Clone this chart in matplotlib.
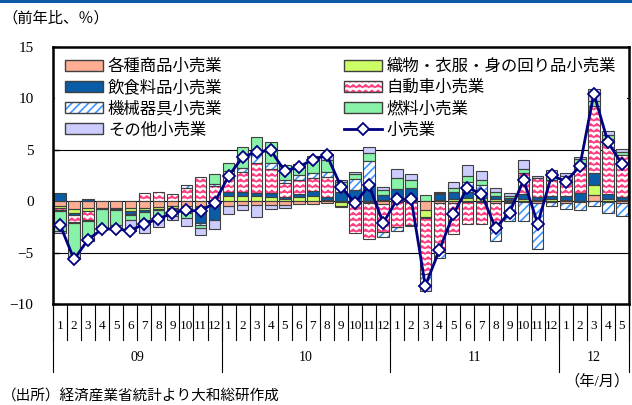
import numpy as np
import matplotlib
matplotlib.use('agg')
import matplotlib.pyplot as plt
import matplotlib.transforms as mtransforms
import matplotlib.hatch as mhatch
from matplotlib.path import Path
from matplotlib.patches import Patch
from matplotlib.lines import Line2D

plt.rcParams['font.family'] = ['Liberation Serif', 'Noto Sans CJK JP']
plt.rcParams['hatch.linewidth'] = 1.2


class WaveHatch(mhatch.HatchPatternBase):
    # zigzag lines for '|' in a hatch string (stands in for Excel's wave fill)
    def __init__(self, hatch, density):
        self.num_lines = int(hatch.count('|') * density)
        self.npts = 33
        self.num_vertices = self.num_lines * self.npts

    def set_vertices_and_codes(self, vertices, codes):
        n = self.npts
        xs = np.linspace(0, 1, n)
        zig = np.where(np.arange(n) % 2 == 0, -0.012, 0.012)
        for i in range(self.num_lines):
            y0 = (i + 0.5) / self.num_lines
            vertices[i * n:(i + 1) * n, 0] = xs
            vertices[i * n:(i + 1) * n, 1] = y0 + zig
            codes[i * n] = Path.MOVETO
            codes[i * n + 1:(i + 1) * n] = Path.LINETO


mhatch._hatch_types = [WaveHatch if t is mhatch.VerticalHatch else t
                       for t in mhatch._hatch_types]

months = list(range(1, 13)) * 3 + list(range(1, 6))
years = ['09', '10', '11', '12']

kakushu = [-0.5, -0.8, -0.7, -0.65, -0.65, -0.65, -0.65, -0.55, -0.5, -0.5, -0.5, -0.5,
           -0.5, -0.35, -0.4, -0.4, -0.35, -0.3, -0.3, -0.15, -0.1, -0.1, -0.1, -0.25,
           -0.1, -0.05, -0.9, -0.15, -0.15, -0.1, -0.1, -0.15, -0.1, -0.1, -0.2, -0.1,
           -0.15, -0.1, 0.6, -0.1, -0.15]
orimono = [-0.2, -0.3, -0.25, -0.1, -0.15, -0.3, -0.2, -0.2, -0.15, -0.25, -0.1, 0.1,
           0.5, 0.55, 0.55, 0.4, 0.2, 0.45, 0.55, 0.1, -0.35, -0.05, -0.1, 0.15,
           0.15, 0.05, -0.6, 0.1, 0.25, 0.3, 0.3, 0.2, 0.15, 0.2, 0.1, 0.2,
           0.1, 0.05, 1.0, 0.2, 0.1]
inshoku = [0.77, -0.2, 0.2, -0.05, -0.1, -0.3, -0.2, -0.1, -0.1, -0.35, -1.5, -1.3,
           0.4, 0.3, 0.25, 0.35, 0.25, 0.2, 0.4, 0.3, 0.9, 1.1, 1.5, 0.45,
           1.0, 1.2, -0.1, 0.55, 0.6, 0.6, 0.6, 0.35, 0.15, 0.5, 0.3, 0.3,
           0.45, 0.75, 1.1, 0.5, 0.35]
jidousha = [-0.2, -0.7, -0.9, 0.0, 0.0, -0.1, 0.8, 0.85, 0.7, 1.25, 2.3, 1.4,
            1.7, 2.0, 2.9, 2.4, 1.3, 1.45, 1.3, 1.9, -0.15, -2.9, -3.5, -2.7,
            -2.4, -2.3, -5.5, -4.8, -3.0, -2.1, -2.15, -2.3, -0.1, 2.0, 1.85, 1.6,
            1.9, 2.9, 6.5, 5.35, 4.0]
kikai = [-0.1, -0.1, -0.1, 0.0, 0.0, 0.0, 0.0, 0.0, 0.0, 0.3, -0.2, 0.2,
         0.3, 0.4, 0.9, 0.6, 0.3, 0.4, 0.5, 0.55, 0.5, 1.05, 2.35, -0.5,
         -0.4, -0.1, -1.1, -0.6, 0.0, 1.0, 0.7, -1.4, -1.7, -1.8, -4.45, -0.4,
         -0.65, -0.8, -0.5, -1.0, -1.3]
nenryou = [-1.9, -3.3, -1.8, -1.8, -1.4, -0.5, -0.8, -1.0, -0.7, -0.5, -0.3, 0.9,
           0.8, 2.0, 1.65, 1.95, 1.5, 1.1, 1.3, 1.1, 0.5, 0.5, 0.85, 0.5,
           1.1, 0.85, 0.6, 0.15, 0.4, 0.5, 0.5, 0.3, 0.2, 0.4, 0.0, 0.5,
           0.0, 0.35, 0.55, 0.35, 0.3]
sonota = [-0.2, -0.2, -0.15, -0.1, -0.4, -1.0, -1.2, -0.7, -0.4, -0.8, -0.7, -0.9,
          -0.7, -0.55, -1.1, -0.35, -0.3, 0.0, 0.3, 0.6, 0.15, 0.2, 0.55, 0.3,
          0.85, 0.5, -0.5, 0.1, 0.65, 1.1, 0.85, 0.4, 0.3, 0.85, 0.2, 0.4,
          0.25, 0.25, 1.15, 0.4, 0.3]
kouri = [-2.28, -5.65, -3.72, -2.7, -2.7, -2.86, -2.2, -1.73, -1.15, -0.84, -1.0, -0.13,
         2.43, 4.29, 4.77, 4.93, 2.91, 3.33, 4.04, 4.45, 1.41, -0.2, 1.54, -2.12,
         0.19, 0.19, -8.2, -4.75, -1.25, 1.31, 0.7, -2.6, -1.1, 2.05, -2.18, 2.53,
         1.89, 3.39, 10.44, 5.73, 3.59]

# label, values, fill colour, hatch, hatch colour
series = [
    ('各種商品小売業', kakushu, '#FFAE94', None, None),
    ('織物・衣服・身の回り品小売業', orimono, '#CCFF66', None, None),
    ('飲食料品小売業', inshoku, '#0B5CA6', None, None),
    ('自動車小売業', jidousha, 'white', '|||', '#FF3D82'),
    ('機械器具小売業', kikai, 'white', '////', '#3C96FF'),
    ('燃料小売業', nenryou, '#88F2A8', None, None),
    ('その他小売業', sonota, '#CCCCFF', None, None),
]

W, H = 632, 405
fig = plt.figure(figsize=(W / 100, H / 100), dpi=100)
ax = fig.add_axes([53 / W, 1 - 304.3 / H, 576 / W, 257.8 / H])

x = np.arange(len(kouri))
width = 0.82
edge = '#404040'
pos = np.zeros(len(x))
neg = np.zeros(len(x))
handles = {}
for label, vals, face, hatch, hcol in series:
    v = np.array(vals)
    bottom = np.where(v >= 0, pos, neg)
    m = v != 0
    if hatch:
        ax.bar(x[m], v[m], width, bottom=bottom[m], color='white', edgecolor=hcol,
               hatch=hatch, linewidth=0, zorder=2)
        handles[label] = (Patch(facecolor='white', edgecolor=hcol, hatch=hatch, linewidth=0),
                          Patch(facecolor='none', edgecolor=edge, linewidth=1))
    else:
        ax.bar(x[m], v[m], width, bottom=bottom[m], color=face, linewidth=0, zorder=2)
        handles[label] = Patch(facecolor=face, edgecolor=edge, linewidth=1)
    ax.bar(x[m], v[m], width, bottom=bottom[m], facecolor='none', edgecolor=edge,
           linewidth=0.8, zorder=2.1)
    pos += np.where(v > 0, v, 0)
    neg += np.where(v < 0, v, 0)

ax.plot(x, kouri, color='#000080', lw=2, marker='D', ms=6.5, mfc='white',
        mec='#000080', mew=1.3, zorder=4)
handles['小売業'] = Line2D([], [], color='#000080', lw=2, marker='D', ms=6.5,
                          mfc='white', mec='#000080', mew=1.3)

for yv in [-5, 0, 5, 10]:
    ax.axhline(yv, color='black', lw=0.8, zorder=1)

ax.set_xlim(-0.5, len(x) - 0.5)
ax.set_ylim(-10, 15)
ax.set_yticks(range(-10, 16, 5))
ax.set_xticks([])
ax.tick_params(axis='y', direction='in', length=4, width=1, labelsize=11, pad=14)
for s in ax.spines.values():
    s.set_linewidth(1.8)

order = ['各種商品小売業', '飲食料品小売業', '機械器具小売業', 'その他小売業',
         '織物・衣服・身の回り品小売業', '自動車小売業', '燃料小売業', '小売業']
leg = ax.legend([handles[k] for k in order], order, ncol=2, loc='upper left',
                bbox_to_anchor=(0.0, 1.0), frameon=True, facecolor='white',
                edgecolor='none', framealpha=1, fancybox=False, fontsize=11.8,
                handlelength=2.3, handleheight=0.65, handletextpad=0.3,
                labelspacing=0.32, columnspacing=7.4, borderpad=0.65, borderaxespad=0.1)
leg.set_zorder(1.5)

# two-level category axis
trans = mtransforms.blended_transform_factory(ax.transData, ax.transAxes)
hpx = 257.8
for i, mo in enumerate(months):
    ax.text(i, -22 / hpx, str(mo), transform=trans, ha='center', va='center', fontsize=9.5)
for b in np.arange(-0.5, len(x), 1.0):
    ax.plot([b, b], [0, -36 / hpx], transform=trans, color='black', lw=0.8, clip_on=False)
ybounds = [-0.5, 11.5, 23.5, 35.5, len(x) - 0.5]
for b in ybounds:
    ax.plot([b, b], [0, -68 / hpx], transform=trans, color='black', lw=0.8, clip_on=False)
for k, yr in enumerate(years):
    ax.text((ybounds[k] + ybounds[k + 1]) / 2, -53 / hpx, yr, transform=trans,
            ha='center', va='center', fontsize=10)

fig.add_artist(plt.Rectangle((0, 1 - 3 / H), 1, 3 / H, transform=fig.transFigure,
                             color='#0F5BA5', lw=0))
fig.text(2 / W, 1 - 18 / H, '（前年比、％）', ha='left', va='center', fontsize=11)
fig.text(630 / W, 1 - 381 / H, '（年/月）', ha='right', va='center', fontsize=11)
fig.text(2 / W, 1 - 397 / H, '（出所）経済産業省統計より大和総研作成', ha='left',
         va='center', fontsize=10.5)

fig.savefig('out.png', dpi=100)
